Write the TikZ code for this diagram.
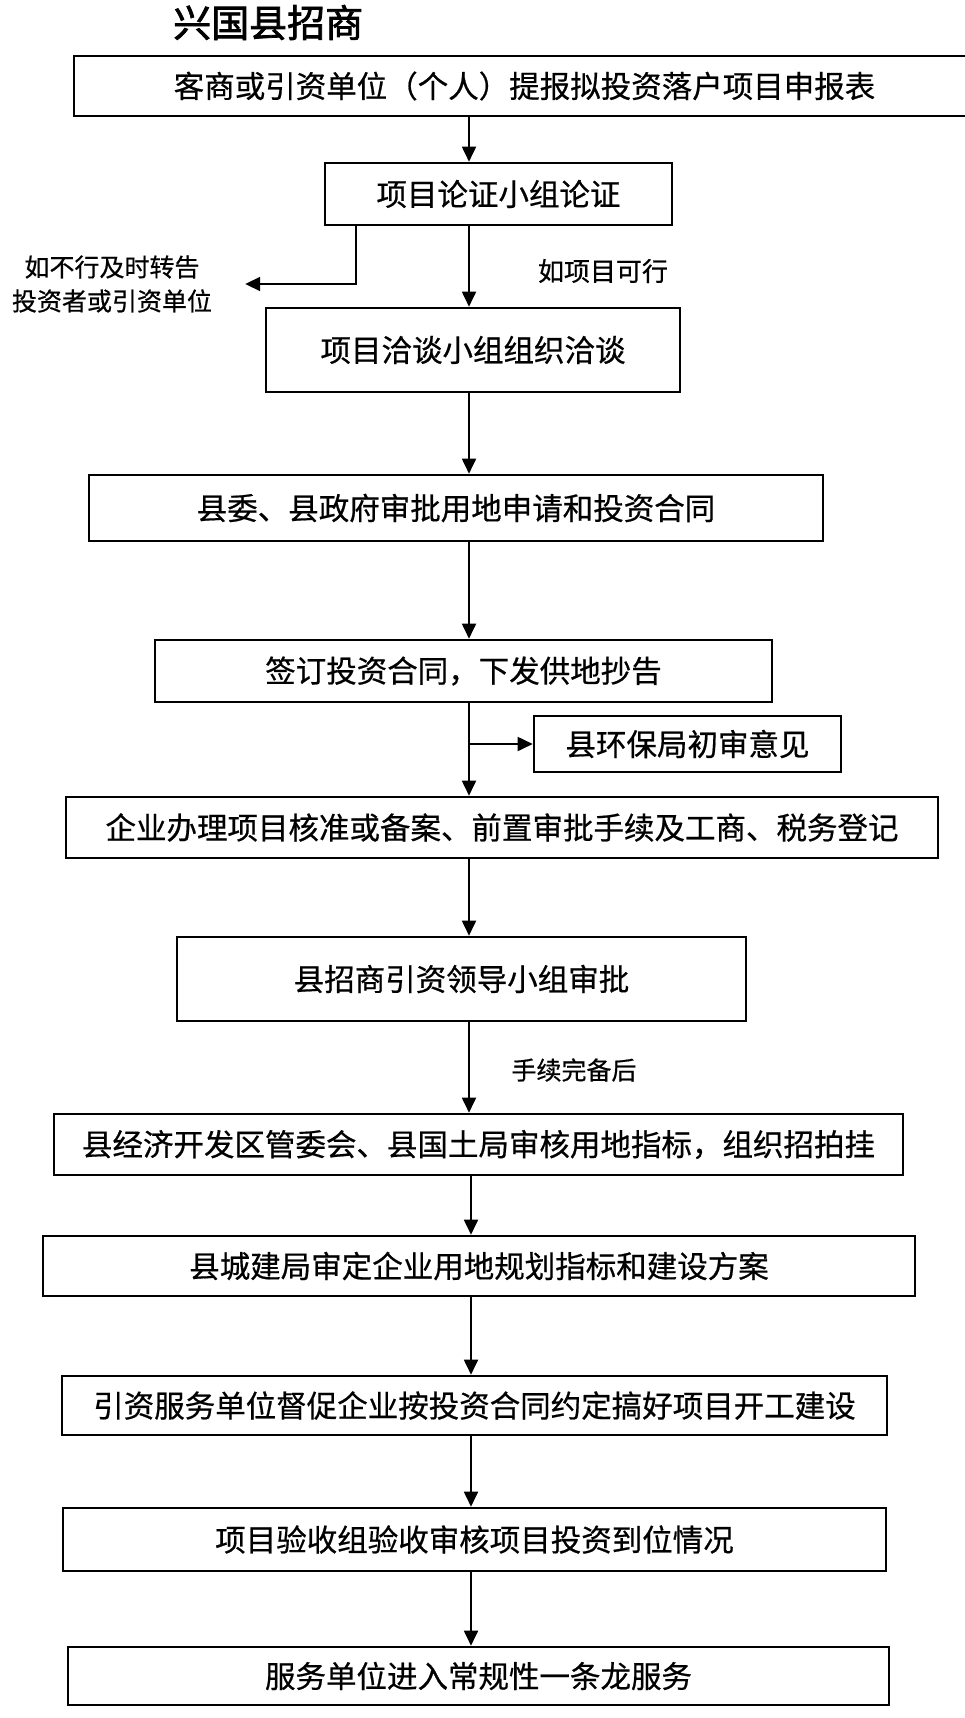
\documentclass[tikz,border=0pt]{standalone}
\usepackage{fontspec}
\setmainfont{Noto Sans CJK SC}[FakeBold=0.6]
\newfontfamily\cjktitle{Noto Sans CJK SC}[FakeBold=2]
\usetikzlibrary{arrows.meta}
\begin{document}
\begin{tikzpicture}[x=1pt,y=-1pt,
  box/.style={draw, line width=2.6pt, rectangle, inner sep=0pt, font=\fontsize{30.5}{36}\selectfont},
  arr/.style={line width=1.8pt, -{Triangle[length=15pt,width=14pt]}},
  lbl/.style={font=\fontsize{25}{30}\selectfont, inner sep=0pt}]
\useasboundingbox (0,0) rectangle (965,1718);
\clip (0,0) rectangle (965,1718);
\fill[white] (0,0) rectangle (965,1718);
% title (top of the page)
\node[anchor=base west, inner sep=0pt, font=\cjktitle\fontsize{38}{44}\selectfont] (title) at (173,37) {兴国县招商};
% boxes
\node[box, minimum width=901pt, minimum height=60pt] (B1) at (524.5,86) {客商或引资单位（个人）提报拟投资落户项目申报表};
\node[box, minimum width=347pt, minimum height=62pt] (B2) at (498.5,194) {项目论证小组论证};
\node[box, minimum width=414pt, minimum height=84pt] (B3) at (473,350) {项目洽谈小组组织洽谈};
\node[box, minimum width=734pt, minimum height=66pt] (B4) at (456,508) {县委、县政府审批用地申请和投资合同};
\node[box, minimum width=617pt, minimum height=62pt] (B5) at (463.5,671) {签订投资合同，下发供地抄告};
\node[box, minimum width=307pt, minimum height=56pt] (B6) at (687.5,744) {县环保局初审意见};
\node[box, minimum width=872pt, minimum height=61pt] (B7) at (502,827.5) {企业办理项目核准或备案、前置审批手续及工商、税务登记};
\node[box, minimum width=569pt, minimum height=84pt] (B8) at (461.5,979) {县招商引资领导小组审批};
\node[box, minimum width=849pt, minimum height=61pt] (B9) at (478.5,1144.5) {县经济开发区管委会、县国土局审核用地指标，组织招拍挂};
\node[box, minimum width=872pt, minimum height=60pt] (B10) at (479,1266) {县城建局审定企业用地规划指标和建设方案};
\node[box, minimum width=825pt, minimum height=59pt] (B11) at (474.5,1405.5) {引资服务单位督促企业按投资合同约定搞好项目开工建设};
\node[box, minimum width=823pt, minimum height=63pt] (B12) at (474.5,1539.5) {项目验收组验收审核项目投资到位情况};
\node[box, minimum width=821pt, minimum height=58pt] (B13) at (478.5,1676) {服务单位进入常规性一条龙服务};
% labels
\node[lbl, align=center] (side) at (112,284) {如不行及时转告\\[4pt]投资者或引资单位};
\node[lbl, font=\fontsize{26}{30}\selectfont] (ok) at (603,271) {如项目可行};
\node[lbl] (done) at (574,1070) {手续完备后};
% spine
\coordinate (sp) at (469,0);
\coordinate (sp2) at (471,0);
% connectors
\draw[arr] (B1.south -| sp) -- (B2.north -| sp);
\draw[arr] (B2.south -| sp) -- (B3.north -| sp);
\draw[arr] (B3.south -| sp) -- (B4.north -| sp);
\draw[arr] (B4.south -| sp) -- (B5.north -| sp);
\draw[arr] (B5.south -| sp) -- (B7.north -| sp);
\draw[arr] (B6.west -| sp) -- (B6.west);
\draw[arr] (B7.south -| sp) -- (B8.north -| sp);
\draw[arr] (B8.south -| sp) -- (B9.north -| sp);
\draw[arr] (B9.south -| sp2) -- (B10.north -| sp2);
\draw[arr] (B10.south -| sp2) -- (B11.north -| sp2);
\draw[arr] (B11.south -| sp2) -- (B12.north -| sp2);
\draw[arr] (B12.south -| sp2) -- (B13.north -| sp2);
\draw[arr] ([xshift=-142.5pt]B2.south) |- ([xshift=33pt]side.east);
\end{tikzpicture}
\end{document}
